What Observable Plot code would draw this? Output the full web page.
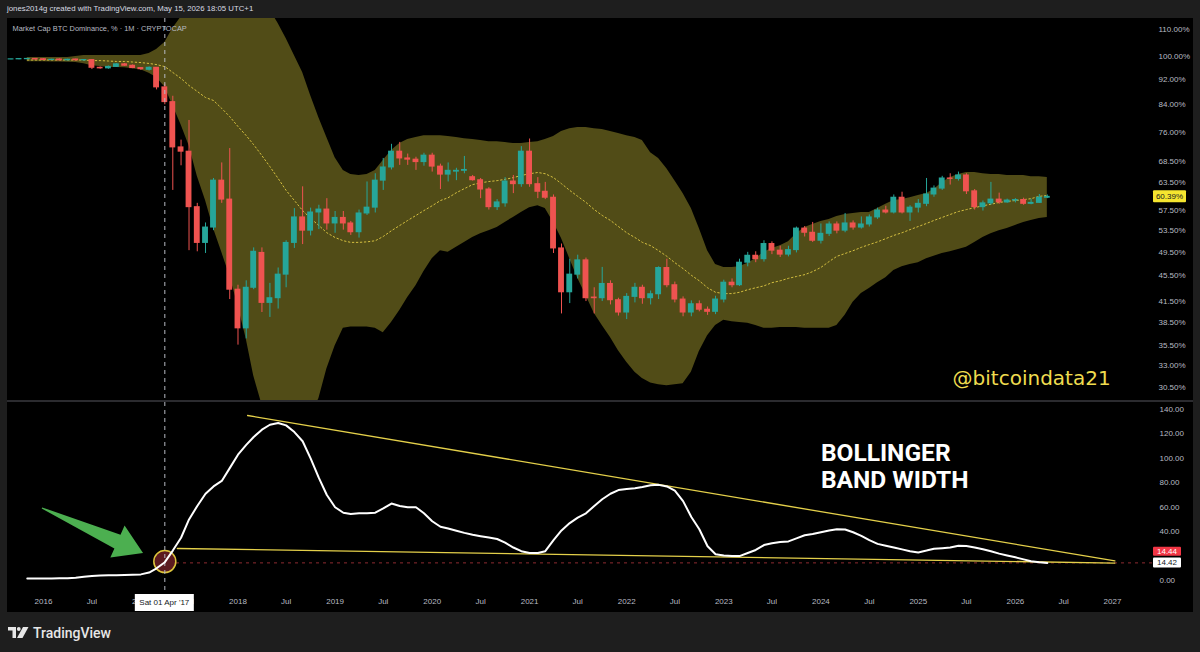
<!DOCTYPE html>
<html>
<head>
<meta charset="utf-8">
<script src="https://cdn.jsdelivr.net/npm/d3@7"></script>
<script src="https://cdn.jsdelivr.net/npm/@observablehq/plot@0.6"></script>
<style>
  html, body { margin:0; padding:0; width:1200px; height:652px; background:#1e1e1e; overflow:hidden; }
  #root { position:relative; width:1200px; height:652px; font-family:"Liberation Sans", Arial, sans-serif; }
  #header { position:absolute; left:7px; top:4px; font-size:7.8px; color:#d8dbe2; white-space:nowrap; }
  #panel { position:absolute; left:7px; top:18px; width:1186px; height:594px; background:#000; }
  #sep { position:absolute; left:7px; top:400px; width:1186px; height:2px; background:#2b2b2f; }
  .pane { position:absolute; left:0; }
  #topPane { top:18px; }
  #botPane { top:402px; }
  #logo { position:absolute; left:8px; top:622px; }
</style>
</head>
<body>
<div id="root">
  <div id="header">jones2014g created with TradingView.com, May 15, 2026 18:05 UTC+1</div>
  <div id="panel"></div>
  <div id="topPane" class="pane"></div>
  <div id="botPane" class="pane"></div>
  <div id="sep"></div>
  <svg id="logo" width="130" height="24" xmlns="http://www.w3.org/2000/svg">
    <path d="M0 5 H8 V16 H4.5 V8.5 H0 Z" fill="#e6e6e6"/>
    <circle cx="10.8" cy="7" r="1.9" fill="#e6e6e6"/>
    <polygon points="15,5 20.5,5 14.5,16 9,16" fill="#e6e6e6"/>
    <text x="25" y="16" font-family="Roboto, 'Liberation Sans', sans-serif" font-weight="500" font-size="14" fill="#e6e6e6">TradingView</text>
  </svg>
</div>
<script>
// ---------------- DATA ----------------
const firstCandleMonth = "2015-09";   // first monthly candle shown
const firstBandMonth = "2015-11";     // first month with Bollinger values shown

// monthly candles [open, high, low, close], BTC dominance %
const candleOHLC = [
  [98.8,98.9,98.7,98.85],[98.85,99.0,98.7,98.95],[98.9,99.1,98.7,99.0],[99.0,99.1,98.6,98.8],
  [98.9,99.1,98.5,98.6],[98.6,98.9,98.4,98.7],[98.8,99.0,98.4,98.5],[98.5,98.9,98.3,98.7],
  [98.8,98.9,98.3,98.5],[98.5,98.8,98.2,98.6],[98.6,98.7,95.3,95.9],[95.9,96.2,95.4,95.7],
  [95.7,96.5,95.4,96.2],[96.2,97.3,96.0,97.1],[97.1,97.4,96.4,96.6],[96.6,96.9,95.6,95.8],
  [95.8,96.0,95.0,95.4],[95.2,96.2,94.8,95.9],[95.9,96.0,88.6,89.4],[89.4,90.5,84.0,84.8],
  [84.8,86.6,61.8,72.1],[72.1,74.0,67.5,71.0],[71.0,79.4,49.8,58.2],[58.2,59.0,49.6,51.2],
  [51.2,55.0,49.3,54.1],[54.1,64.5,53.5,64.0],[64.0,68.2,59.0,59.8],[59.8,71.8,41.8,43.3],
  [43.3,44.0,35.5,37.7],[37.7,44.7,36.3,43.6],[43.6,50.3,43.3,49.6],[49.4,50.3,39.9,41.3],
  [41.3,44.3,39.2,42.0],[42.0,46.8,40.4,45.7],[45.7,51.6,43.6,51.2],[51.2,57.9,50.2,56.1],
  [56.1,62.6,50.9,53.5],[53.5,58.0,52.5,57.1],[57.1,58.6,53.7,57.7],[57.7,60.0,53.6,54.9],
  [54.9,57.3,53.0,56.0],[56.0,57.3,53.6,54.9],[54.9,55.3,52.6,53.2],[53.2,57.6,52.1,56.9],
  [56.9,63.7,56.5,58.1],[58.1,65.6,57.0,64.0],[64.0,69.3,61.8,67.1],[67.1,72.9,66.5,71.0],
  [71.0,73.4,67.6,69.3],[69.3,70.4,67.6,69.0],[69.0,69.6,66.4,68.4],[68.4,70.6,67.4,70.0],
  [70.0,70.6,66.0,67.3],[67.3,67.9,62.0,65.4],[65.4,68.2,63.7,66.3],[66.1,66.9,64.0,66.3],
  [66.3,69.8,65.6,66.5],[64.8,65.2,63.9,64.1],[64.1,64.5,60.0,62.0],[62.0,62.4,57.6,58.2],
  [58.2,59.8,57.5,59.2],[59.0,64.7,58.2,63.8],[63.8,65.2,61.1,63.2],[63.2,72.3,62.5,71.0],
  [71.0,74.3,62.5,63.2],[63.2,64.7,60.0,61.5],[61.5,63.6,59.8,60.2],[60.2,60.8,49.3,50.2],
  [50.2,51.0,39.7,42.9],[42.9,48.3,41.2,45.7],[45.7,49.0,45.0,48.1],[48.1,48.5,41.5,42.0],
  [42.1,43.6,39.7,42.0],[42.0,46.9,41.5,44.2],[44.2,44.7,41.0,41.7],[41.7,42.0,39.4,39.9],
  [39.9,42.7,38.9,42.2],[42.2,44.3,41.3,43.6],[43.6,44.0,41.1,42.0],[42.0,43.1,41.0,42.6],
  [42.6,47.0,41.8,46.8],[46.8,48.3,43.6,44.0],[44.0,44.5,41.3,41.8],[41.8,42.2,39.3,39.9],
  [39.9,41.6,39.3,41.1],[41.1,41.6,40.0,40.3],[40.3,40.7,39.5,40.0],[40.0,42.3,39.6,41.8],
  [41.8,44.8,41.3,44.4],[44.4,45.0,43.6,44.0],[44.0,48.3,43.8,47.7],[47.7,49.5,47.0,48.9],
  [48.9,49.6,47.7,48.3],[48.3,51.6,47.8,51.0],[51.0,51.4,49.1,49.8],[49.8,50.6,48.6,49.1],
  [49.1,50.6,48.7,49.9],[49.9,54.2,49.4,53.9],[53.9,54.3,52.3,53.1],[53.1,55.1,51.3,51.6],
  [51.6,54.8,51.0,52.9],[52.9,55.2,52.4,54.7],[54.7,55.2,52.9,53.5],[53.5,56.9,53.1,54.9],
  [54.9,55.4,53.6,54.1],[54.1,56.2,53.8,54.7],[54.7,56.6,54.2,56.1],[56.1,58.0,55.7,57.5],
  [57.5,58.4,56.8,57.1],[57.1,60.8,56.8,60.2],[60.2,61.4,56.8,57.1],[57.1,58.5,55.3,58.1],
  [58.1,59.8,57.0,58.9],[58.9,64.5,58.3,60.9],[60.9,62.8,60.3,62.2],[62.2,65.0,61.8,64.5],
  [64.5,65.6,63.0,64.4],[64.4,66.0,63.9,65.2],[65.2,65.6,60.9,61.6],[61.6,62.0,57.6,58.2],
  [58.2,59.5,57.4,59.0],[59.0,63.6,58.6,59.8],[59.8,61.2,58.8,59.2],[59.2,59.9,59.0,59.6],
  [59.6,60.0,59.1,59.7],[59.7,60.1,58.6,58.9],[58.9,59.9,58.7,59.1],[59.1,60.9,59.0,60.2],
  [60.2,60.8,60.0,60.39]
];

// Bollinger bands (monthly, %)
const bandUpper = [
  99.5,99.5,99.5,99.5,99.5,99.5,99.9,100.2,100.2,100.2,
  100.2,100.2,100.2,100.2,100.2,100.9,102.4,105.0,110.4,115,
  118,121,124,127,129,130,130,129,127,124,
  118,112.4,106.5,100.2,94.3,86.8,80.2,74.7,69.5,66.4,
  65.4,65.2,65.4,66.4,68.8,71.3,73.1,74.2,74.7,75.2,
  75.2,75.2,75.0,74.7,74.4,74.2,73.9,73.6,73.6,73.4,
  73.1,73.1,73.4,73.6,74.2,75.0,76.3,77.1,77.4,77.4,
  77.1,76.9,76.3,75.8,75.2,74.7,73.9,70.7,69.3,66.8,
  64.0,61.1,57.9,53.9,49.8,47.4,46.9,46.9,47.0,47.6,
  48.4,49.5,50.2,50.7,51.4,52.9,54.1,54.7,55.3,55.7,
  56.3,56.7,56.9,57.1,57.1,57.9,58.8,59.6,59.8,60.2,
  60.7,61.1,62.0,63.6,64.7,65.4,65.9,65.9,65.6,65.4,
  65.4,65.2,65.2,65.2,64.9,64.9,64.7
];
const bandBasis = [
  98.6,98.6,98.6,98.6,98.6,98.6,98.6,98.6,98.4,98.4,
  98.25,98.1,98.1,97.9,97.7,97.4,97.0,96.3,94.3,92.3,
  90.0,88.1,86.2,85.3,82.9,80.5,77.7,75.2,72.8,70.0,
  67.3,64.5,61.8,59.6,57.5,55.9,54.5,53.1,52.2,51.6,
  51.3,51.3,51.4,51.6,52.4,53.5,54.5,55.5,56.5,57.5,
  58.5,59.6,60.2,61.3,62.2,63.1,63.5,63.8,64.0,64.3,
  64.7,65.2,65.6,65.9,65.6,64.7,63.3,61.8,60.5,59.2,
  57.7,56.5,55.5,54.3,53.1,52.2,51.3,50.7,49.8,48.8,
  47.7,46.7,45.6,44.7,43.6,42.9,42.7,42.7,42.9,43.3,
  43.6,43.9,44.4,44.7,45.1,45.4,45.7,46.2,46.9,47.9,
  48.8,49.3,49.8,50.4,50.9,51.4,52.0,52.6,53.1,53.7,
  54.3,54.9,55.5,56.1,56.7,57.3,57.7,58.1,58.5,58.8,
  59.2,59.4,59.6,59.8,60.0,60.5,60.7
];
const bandLower = [
  98.0,98.0,98.0,97.9,97.9,97.8,97.7,97.3,96.6,96.3,
  96.0,96.0,95.9,95.6,95.2,94.0,92.6,89.5,83.8,78.2,
  72.6,65.0,59.6,53.9,49.5,45.5,40.9,36.3,31.8,28.7,
  26.1,24.3,23.9,24.3,25.7,27.6,29.3,32.6,35.4,37.7,
  37.9,37.9,37.9,37.7,37.1,38.5,40.2,42.1,43.9,46.2,
  48.4,49.8,49.5,50.4,51.3,52.2,52.9,53.5,54.1,55.1,
  56.1,57.1,58.1,58.5,57.9,55.1,52.0,48.4,45.1,42.4,
  39.8,38.1,36.5,34.8,33.4,32.2,31.5,31.0,30.8,30.7,
  30.8,30.9,32.2,34.7,36.7,38.1,38.8,38.6,38.5,38.4,
  38.1,37.7,37.7,37.8,37.8,37.8,37.7,37.7,37.7,37.7,
  38.1,39.5,41.4,42.7,43.5,44.4,45.2,46.4,47.0,47.4,
  47.7,48.4,48.8,49.3,49.6,50.0,50.4,51.3,52.2,52.9,
  53.5,53.9,54.5,55.1,55.5,55.9,56.1
];
// Bollinger Band Width (monthly)
const bbwValues = [
  1.6,1.6,1.6,1.7,1.8,1.8,2.3,3.0,3.6,4.0,
  4.2,4.4,4.6,4.8,5.0,6.5,10.0,15.0,24.5,35,
  50,61,71,77,81.5,92,103,111,117.5,123.5,
  127.5,129,127,121.5,114,100,84,70,60,55.5,
  54.5,55,55,55.5,59,63,61,60,60,55,
  48.5,44,42.5,40.8,39,37.5,36.3,35.2,34,31,
  27,24,22.5,22.5,24,33,41,47,51.5,55,
  61,66.5,71,74,75,75.5,76.5,78,78.3,77,
  73.5,65,52,42,28,21.5,20.5,20,20,22.5,
  25,29,30.5,31.5,32,34.5,37,38,39.5,41,
  42,41.8,39.5,36.5,33,30,28.5,27,25.5,24,
  23,24.5,26,26.5,27,28.5,28.3,27,25.6,24,
  22,20.5,19,17.3,15.8,14.9,14.42
];

const priceTicks = [110, 100, 92, 84, 76, 68.5, 63.5, 57.5, 53.5, 49.5, 45.5, 41.5, 38.5, 35.5, 33, 30.5];
const bbwTicks = [140, 120, 100, 80, 60, 40, 0];
const timeTicks = ["2016-01","2016-07","2017-01","2017-07","2018-01","2018-07","2019-01","2019-07",
  "2020-01","2020-07","2021-01","2021-07","2022-01","2022-07","2023-01","2023-07","2024-01","2024-07",
  "2025-01","2025-07","2026-01","2026-07","2027-01"];
const timeDomain = ["2016-01-01", "2027-01-01"];

const titleText = "Market Cap BTC Dominance, % · 1M · CRYPTOCAP";
const crosshairDay = "2017-04-01";
const crosshairLabel = "Sat 01 Apr '17";
const lastPrice = 60.39, lastPriceLabel = "60.39%";
const bbwLast = 14.42, bbwOther = 14.44;
const trendUpper = [["2018-02-06", 135.1], ["2027-01-10", 16.0]];
const trendLower = [["2017-05-18", 26.2], ["2027-01-10", 14.3]];
const levelLineSpan = ["2017-05-15", "2027-06-20"];
const circleAt = ["2017-04-01", 15.5];
const arrowFrom = ["2015-12-28", 59], arrowTo = ["2017-01-11", 22.1];
const noteText = "BOLLINGER\nBAND WIDTH", noteAt = ["2024-01-01", 113.5];
const handleText = "@bitcoindata21", handleAt = ["2025-05-10", 31.5];

// ---------------- BUILD ----------------
const pDay = d3.utcParse("%Y-%m-%d");
const pMonth = d3.utcParse("%Y-%m");
const UP = "#26a69a", DOWN = "#ef5350";

const candles = candleOHLC.map(([o, h, l, c], i) => ({
  date: d3.utcMonth.offset(pMonth(firstCandleMonth), i), open: o, high: h, low: l, close: c
}));
const bands = bandUpper.map((u, i) => ({
  date: d3.utcMonth.offset(pMonth(firstBandMonth), i),
  upper: u, basis: bandBasis[i], lower: bandLower[i], bbw: bbwValues[i]
}));
const candleColor = d => d.close >= d.open ? UP : DOWN;
const xScale = {type: "utc", domain: timeDomain.map(pDay), range: [43, 1112]};
const baseStyle = {background: "transparent", color: "#b8bbc3", fontFamily: "'Liberation Sans', Arial, sans-serif", fontSize: "8px", overflow: "visible"};
const toPts = arr => arr.map(([d, v]) => ({date: pDay(d), v}));
const SVGNS = "http://www.w3.org/2000/svg";

function priceTag(value, label, bg, fg, w, h, shift = 0) {
  return (index, scales, values, dim) => {
    const y = scales.y(value) + shift;
    const x0 = dim.width - dim.marginRight + 28;
    const g = document.createElementNS(SVGNS, "g");
    const r = document.createElementNS(SVGNS, "rect");
    r.setAttribute("x", x0); r.setAttribute("y", y - h / 2); r.setAttribute("width", w); r.setAttribute("height", h);
    r.setAttribute("fill", bg); r.setAttribute("rx", 1);
    const t = document.createElementNS(SVGNS, "text");
    t.setAttribute("x", x0 + w / 2); t.setAttribute("y", y); t.setAttribute("dy", "0.35em");
    t.setAttribute("text-anchor", "middle"); t.setAttribute("fill", fg); t.setAttribute("font-size", 8);
    t.textContent = label;
    g.appendChild(r); g.appendChild(t);
    return g;
  };
}

function dateTag(day, label) {
  return (index, scales, values, dim) => {
    const x = scales.x(pDay(day));
    const y0 = dim.height - dim.marginBottom + 2;
    const g = document.createElementNS(SVGNS, "g");
    const r = document.createElementNS(SVGNS, "rect");
    r.setAttribute("x", x - 29.5); r.setAttribute("y", y0); r.setAttribute("width", 59); r.setAttribute("height", 17);
    r.setAttribute("fill", "#ffffff");
    const t = document.createElementNS(SVGNS, "text");
    t.setAttribute("x", x); t.setAttribute("y", y0 + 8.5); t.setAttribute("dy", "0.35em");
    t.setAttribute("text-anchor", "middle"); t.setAttribute("fill", "#131722"); t.setAttribute("font-size", 8);
    t.textContent = label;
    g.appendChild(r); g.appendChild(t);
    return g;
  };
}

function arrowMark(from, to, color) {
  return (index, scales) => {
    const x0 = scales.x(pDay(from[0])), y0 = scales.y(from[1]);
    const x1 = scales.x(pDay(to[0])), y1 = scales.y(to[1]);
    const dx = x1 - x0, dy = y1 - y0, len = Math.hypot(dx, dy);
    const ux = dx / len, uy = dy / len, nx = -uy, ny = ux;
    const headLen = 28, headHalf = 17.5, shaftHalf = 7.5, tailHalf = 0.6;
    const bx = x1 - ux * headLen, by = y1 - uy * headLen;
    const pts = [
      [x0 + nx * tailHalf, y0 + ny * tailHalf], [bx + nx * shaftHalf, by + ny * shaftHalf],
      [bx + nx * headHalf, by + ny * headHalf], [x1, y1],
      [bx - nx * headHalf, by - ny * headHalf], [bx - nx * shaftHalf, by - ny * shaftHalf],
      [x0 - nx * tailHalf, y0 - ny * tailHalf]
    ];
    const el = document.createElementNS(SVGNS, "polygon");
    el.setAttribute("points", pts.map(p => p.join(",")).join(" "));
    el.setAttribute("fill", color);
    return el;
  };
}

// ---- top pane: candles + Bollinger Bands ----
const topChart = Plot.plot({
  width: 1200, height: 383,
  marginLeft: 7, marginRight: 75, marginTop: 0, marginBottom: 0,
  style: baseStyle,
  x: {...xScale, axis: null},
  y: {type: "log", domain: [30.5, 110], range: [369, 11], axis: "right", ticks: priceTicks,
      tickFormat: d => d.toFixed(2) + "%", tickSize: 0, tickPadding: 33, label: null},
  marks: [
    Plot.areaY(bands, {x: "date", y1: "lower", y2: "upper", fill: "#514c17", clip: true}),
    Plot.line(bands, {x: "date", y: "basis", stroke: "#d4bf40", strokeWidth: 1, strokeDasharray: "1.5,2.5", clip: true}),
    Plot.ruleX(candles, {x: "date", y1: "low", y2: "high", stroke: candleColor, strokeWidth: 1, clip: true}),
    Plot.rect(candles, {
      x1: d => d3.utcDay.offset(d.date, -11), x2: d => d3.utcDay.offset(d.date, 11),
      y1: "open", y2: "close", fill: candleColor, insetTop: -0.5, insetBottom: -0.5, clip: true
    }),
    Plot.ruleX([pDay(crosshairDay)], {stroke: "#b7bac2", strokeDasharray: "4,4", strokeWidth: 1}),
    Plot.text([titleText], {frameAnchor: "top-left", dx: 5, dy: 7, text: d => d, fill: "#b8bbc3", fontSize: 7.4, textAnchor: "start", lineAnchor: "top"}),
    Plot.text([handleText], {x: () => pDay(handleAt[0]), y: () => handleAt[1], text: d => d, fill: "#efdc4f",
      fontSize: 20, fontFamily: "'DejaVu Sans', sans-serif", textAnchor: "start"}),
    priceTag(lastPrice, lastPriceLabel, "#f5e52f", "#131722", 33, 12)
  ]
});

// ---- bottom pane: Bollinger Band Width ----
const botChart = Plot.plot({
  width: 1200, height: 210,
  marginLeft: 7, marginRight: 75, marginTop: 0, marginBottom: 20,
  style: baseStyle,
  x: {...xScale, ticks: timeTicks.map(pMonth), tickSize: 0, tickPadding: 6, label: null,
      tickFormat: d => d.getUTCMonth() === 0 ? String(d.getUTCFullYear()) : "Jul"},
  y: {domain: [0, 140], range: [178, 7], axis: "right", ticks: bbwTicks,
      tickFormat: d => d.toFixed(2), tickSize: 0, tickPadding: 34, label: null},
  marks: [
    Plot.ruleY([bbwLast], {x1: () => pDay(levelLineSpan[0]), x2: () => pDay(levelLineSpan[1]),
      stroke: "#8e2b30", strokeWidth: 1, strokeDasharray: "3,4"}),
    Plot.line(toPts(trendUpper), {x: "date", y: "v", stroke: "#e4d04a", strokeWidth: 1.3, clip: true}),
    Plot.line(toPts(trendLower), {x: "date", y: "v", stroke: "#e4d04a", strokeWidth: 1.3, clip: true}),
    Plot.dot([circleAt], {x: d => pDay(d[0]), y: d => d[1], r: 11, fill: "#5c1a1f", stroke: "#dcc43c", strokeWidth: 1.5}),
    Plot.ruleX([pDay(crosshairDay)], {stroke: "#b7bac2", strokeDasharray: "4,4", strokeWidth: 1}),
    Plot.line(bands, {x: "date", y: "bbw", stroke: "#ffffff", strokeWidth: 2, clip: true}),
    arrowMark(arrowFrom, arrowTo, "#4caf50"),
    Plot.text([noteText], {x: () => pDay(noteAt[0]), y: () => noteAt[1], text: d => d, fill: "#ffffff",
      fontSize: 24.5, fontWeight: "bold", fontFamily: "Roboto, 'Liberation Sans', sans-serif",
      textAnchor: "start", lineAnchor: "top", lineHeight: 1.1}),
    priceTag(bbwOther, String(bbwOther.toFixed(2)), "#f23645", "#ffffff", 28, 9, -11),
    priceTag(bbwLast, String(bbwLast.toFixed(2)), "#ffffff", "#131722", 28, 10),
    dateTag(crosshairDay, crosshairLabel)
  ]
});

document.getElementById("topPane").appendChild(topChart);
document.getElementById("botPane").appendChild(botChart);
</script>
</body>
</html>
